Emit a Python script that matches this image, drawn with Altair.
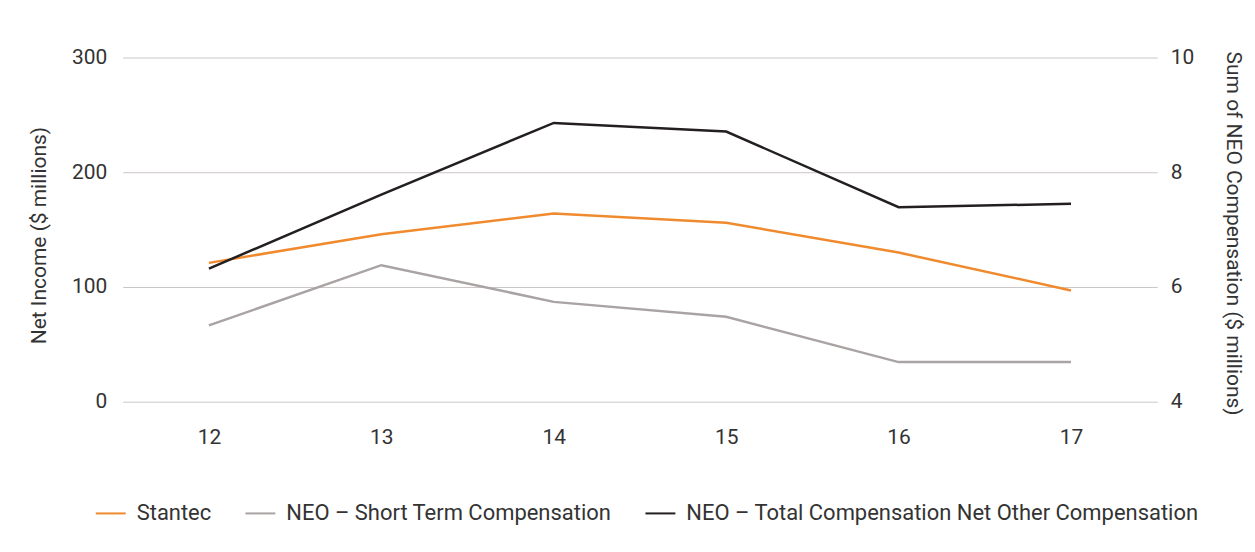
import altair as alt
import pandas as pd

years = ["12", "13", "14", "15", "16", "17"]
stantec = [121, 146, 164, 156, 130, 97]
neo_short = [5.33, 6.38, 5.74, 5.48, 4.69, 4.69]
neo_total = [6.32, 7.61, 8.86, 8.71, 7.39, 7.45]

series_names = ["Stantec", "NEO – Short Term Compensation",
                "NEO – Total Compensation Net Other Compensation"]
series_colors = ["#F08A2E", "#AAA3A3", "#231F20"]

left_df = pd.DataFrame({"year": years, "value": stantec, "series": series_names[0]})
right_df = pd.concat([
    pd.DataFrame({"year": years, "value": neo_short, "series": series_names[1]}),
    pd.DataFrame({"year": years, "value": neo_total, "series": series_names[2]}),
])

FONT = "Roboto, sans-serif"
TXT = "#333333"

color = alt.Color(
    "series:N",
    scale=alt.Scale(domain=series_names, range=series_colors),
    sort=series_names,
    legend=alt.Legend(
        title=None, orient="none", direction="horizontal",
        legendX=-28, legendY=441,
        symbolType="stroke", symbolStrokeWidth=2, symbolSize=900,
        labelFontSize=22, labelFont=FONT, labelColor=TXT, labelLimit=0,
        labelOffset=10, columnPadding=30,
    ),
)

xenc = alt.X(
    "year:O", sort=years,
    scale=alt.Scale(paddingOuter=0.5),
    axis=alt.Axis(title=None, labelAngle=0, ticks=False, domain=False,
                  labelPadding=25, labelFontSize=21, labelFont=FONT,
                  labelColor=TXT, grid=False),
)

left = alt.Chart(left_df).mark_line(strokeWidth=2.5).encode(
    x=xenc,
    y=alt.Y("value:Q",
            scale=alt.Scale(domain=[0, 300], nice=False, zero=False),
            axis=alt.Axis(title="Net Income ($ millions)", values=[0, 100, 200, 300],
                          orient="left", ticks=False, domain=False, grid=True,
                          gridColor="#CBC6C6", gridWidth=1,
                          labelPadding=16, labelFontSize=21, labelFont=FONT,
                          labelColor=TXT, titleFontSize=21, titleFont=FONT,
                          titleFontWeight="normal", titleColor=TXT,
                          titleX=-83, titleY=178, titleAngle=270,
                          titleBaseline="middle", titleAlign="center")),
    color=color,
)

right = alt.Chart(right_df).mark_line(strokeWidth=2.5).encode(
    x=xenc,
    y=alt.Y("value:Q",
            scale=alt.Scale(domain=[4, 10], nice=False, zero=False),
            axis=alt.Axis(title="Sum of NEO Compensation ($ millions)",
                          values=[4, 6, 8, 10], orient="right",
                          ticks=False, domain=False, grid=False,
                          labelPadding=13, labelFontSize=21, labelFont=FONT,
                          labelColor=TXT, titleFontSize=21, titleFont=FONT,
                          titleFontWeight="normal", titleColor=TXT,
                          titleX=75, titleY=176, titleAngle=90,
                          titleBaseline="middle", titleAlign="center")),
    color=color,
)

chart = alt.layer(left, right).resolve_scale(y="independent").properties(
    width=1037, height=345,
    background="white",
    autosize=alt.AutoSizeParams(type="none"),
    padding={"left": 115, "top": 49, "right": 90, "bottom": 140},
).configure_view(strokeWidth=0, stroke="transparent")

chart.save("out.html", embed_options={"renderer": "svg", "actions": False})
